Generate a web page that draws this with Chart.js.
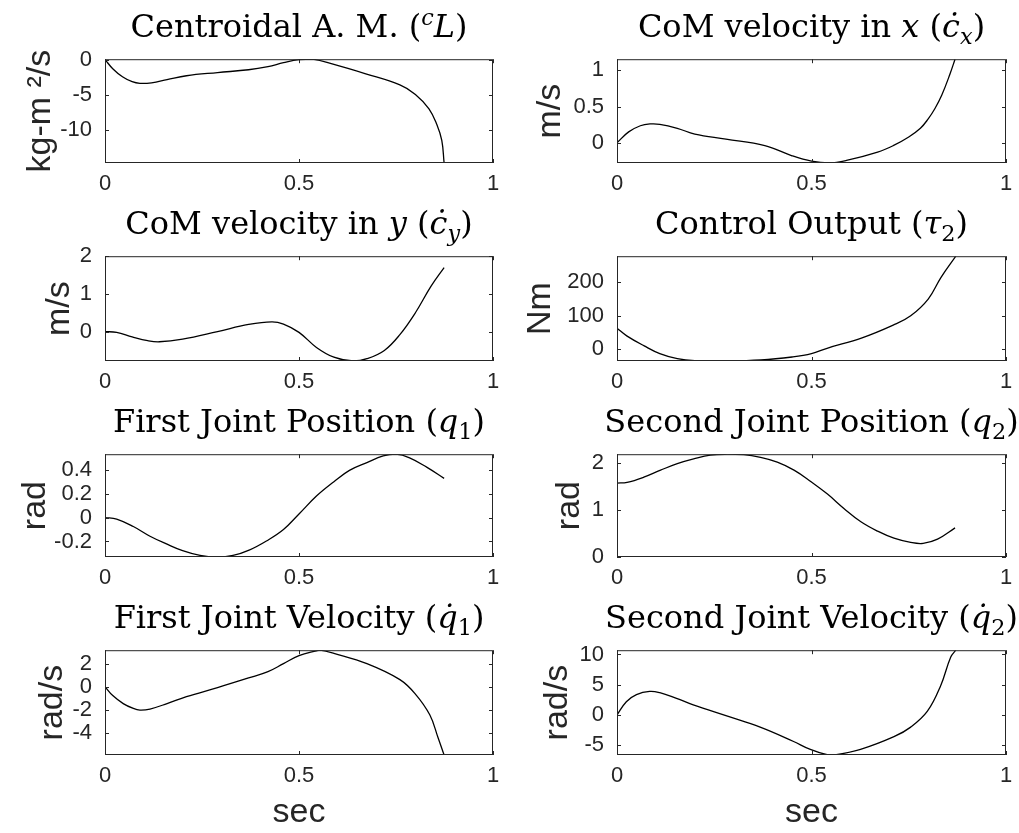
<!DOCTYPE html>
<html>
<head>
<meta charset="utf-8">
<script src="https://cdn.jsdelivr.net/npm/chart.js@4.4.1/dist/chart.umd.min.js"></script>
<style>
    body { margin: 0; background: #fff; width: 1019px; height: 833px; overflow: hidden; position: relative; }
    canvas { position: absolute; }
    .ttl {
        position: absolute; width: 600px; text-align: center; white-space: nowrap;
        font-family: 'DejaVu Serif', serif; font-size: 32px; line-height: 32px; color: #000;
    }
    .ttl sub, .ttl sup { font-size: 0.7em; line-height: 0; }
</style>
</head>
<body>
<script>
// time axis ticks (sec)
const xTicks = [0, 0.5, 1];

// Centroidal angular momentum
const amT = [0, 0.02, 0.045, 0.07, 0.09, 0.12, 0.16, 0.21, 0.29, 0.37, 0.42, 0.46, 0.5, 0.535, 0.59, 0.67, 0.76, 0.8, 0.835, 0.855, 0.868, 0.874];
const amV = [0, -1.3, -2.45, -3.15, -3.38, -3.3, -2.85, -2.3, -1.85, -1.45, -1.0, -0.45, -0.02, 0.05, -0.7, -2.0, -3.6, -4.95, -7.0, -9.2, -11.5, -14.7];
const amTicks = [-10, -5, 0];
const amLim = [-14.7, 0.05];

// CoM velocity x
const vxT = [0, 0.03, 0.06, 0.085, 0.11, 0.155, 0.2, 0.28, 0.38, 0.45, 0.5, 0.545, 0.59, 0.67, 0.71, 0.75, 0.78, 0.8, 0.817, 0.835, 0.856, 0.869];
const vxV = [0, 0.15, 0.235, 0.26, 0.255, 0.2, 0.12, 0.05, -0.04, -0.18, -0.255, -0.28, -0.245, -0.13, -0.04, 0.08, 0.2, 0.33, 0.47, 0.66, 0.95, 1.155];
const vxTicks = [0, 0.5, 1];
const vxLim = [-0.28, 1.155];

// CoM velocity y
const vyT = [0, 0.03, 0.07, 0.11, 0.14, 0.2, 0.29, 0.37, 0.43, 0.46, 0.5, 0.545, 0.59, 0.64, 0.675, 0.72, 0.76, 0.8, 0.84, 0.874];
const vyV = [0, -0.02, -0.14, -0.24, -0.27, -0.2, 0, 0.19, 0.26, 0.2, -0.02, -0.42, -0.68, -0.78, -0.72, -0.5, -0.08, 0.5, 1.2, 1.7];
const vyTicks = [0, 1, 2];
const vyLim = [-0.78, 2];

// Control output tau2
const tauT = [0, 0.025, 0.07, 0.11, 0.155, 0.2, 0.28, 0.37, 0.45, 0.5, 0.54, 0.63, 0.71, 0.755, 0.8, 0.833, 0.871];
const tauV = [63, 40, 10, -13, -28, -34, -35, -32, -23, -13, 3, 34, 72, 100, 150, 215, 278];
const tauTicks = [0, 100, 200];
const tauLim = [-35, 278];

// First joint position q1
const q1T = [0, 0.03, 0.073, 0.116, 0.16, 0.2, 0.245, 0.288, 0.33, 0.373, 0.416, 0.46, 0.5, 0.545, 0.59, 0.63, 0.675, 0.717, 0.75, 0.785, 0.83, 0.874];
const q1V = [0, -0.013, -0.075, -0.156, -0.223, -0.277, -0.317, -0.33, -0.317, -0.27, -0.196, -0.1, 0.03, 0.18, 0.3, 0.395, 0.46, 0.515, 0.53, 0.5, 0.42, 0.328];
const q1Ticks = [-0.2, 0, 0.2, 0.4];
const q1Lim = [-0.33, 0.53];

// Second joint position q2
const q2T = [0, 0.026, 0.069, 0.112, 0.155, 0.197, 0.24, 0.283, 0.326, 0.369, 0.412, 0.455, 0.498, 0.541, 0.584, 0.627, 0.67, 0.712, 0.755, 0.787, 0.824, 0.869];
const q2V = [1.575, 1.59, 1.7, 1.85, 1.99, 2.09, 2.17, 2.19, 2.18, 2.12, 2.02, 1.85, 1.61, 1.34, 1.03, 0.75, 0.55, 0.4, 0.31, 0.29, 0.38, 0.62];
const q2Ticks = [0, 1, 2];
const q2Lim = [0, 2.19];

// First joint velocity
const dq1T = [0, 0.02, 0.047, 0.073, 0.09, 0.116, 0.16, 0.21, 0.29, 0.37, 0.42, 0.46, 0.5, 0.545, 0.555, 0.59, 0.675, 0.76, 0.8, 0.837, 0.858, 0.874];
const dq1V = [0, -0.77, -1.46, -1.88, -2.02, -1.93, -1.46, -0.86, -0.08, 0.75, 1.3, 1.99, 2.68, 3.09, 3.15, 2.87, 1.99, 0.61, -0.64, -2.43, -4.36, -5.9];
const dq1Ticks = [-4, -2, 0, 2];
const dq1Lim = [-5.9, 3.15];

// Second joint velocity
const dq2T = [0, 0.024, 0.05, 0.084, 0.11, 0.153, 0.196, 0.282, 0.368, 0.454, 0.497, 0.54, 0.56, 0.626, 0.712, 0.755, 0.798, 0.832, 0.858, 0.871];
const dq2V = [0, 2.2, 3.37, 3.9, 3.68, 2.74, 1.68, -0.16, -2.0, -4.37, -5.68, -6.55, -6.6, -5.68, -3.58, -2.0, 0.63, 4.84, 9.58, 10.7];
const dq2Ticks = [-5, 0, 5, 10];
const dq2Lim = [-6.6, 10.7];

const panels = [
    { title: 'Centroidal A. M. (<i><sup>c</sup>L</i>)', unit: 'kg-m ²/s', t: amT, v: amV, ticks: amTicks, lim: amLim },
    { title: 'CoM velocity in <i>x</i> (<i>ċ<sub>x</sub></i>)', unit: 'm/s', t: vxT, v: vxV, ticks: vxTicks, lim: vxLim },
    { title: 'CoM velocity in <i>y</i> (<i>ċ<sub>y</sub></i>)', unit: 'm/s', t: vyT, v: vyV, ticks: vyTicks, lim: vyLim },
    { title: 'Control Output (<i>τ</i><sub>2</sub>)', unit: 'Nm', t: tauT, v: tauV, ticks: tauTicks, lim: tauLim },
    { title: 'First Joint Position (<i>q</i><sub>1</sub>)', unit: 'rad', t: q1T, v: q1V, ticks: q1Ticks, lim: q1Lim },
    { title: 'Second Joint Position (<i>q</i><sub>2</sub>)', unit: 'rad', t: q2T, v: q2V, ticks: q2Ticks, lim: q2Lim },
    { title: 'First Joint Velocity (<i>q&#775;</i><sub>1</sub>)', unit: 'rad/s', t: dq1T, v: dq1V, ticks: dq1Ticks, lim: dq1Lim },
    { title: 'Second Joint Velocity (<i>q&#775;</i><sub>2</sub>)', unit: 'rad/s', t: dq2T, v: dq2V, ticks: dq2Ticks, lim: dq2Lim }
];

// layout of the subplot grid (pixels)
const cols = [
    { x: 0, w: 510, left: 105, right: 493 },
    { x: 510, w: 509, left: 617, right: 1006 }
];
const rows = [
    { top: 55, bottom: 163 },
    { top: 252, bottom: 361 },
    { top: 450, bottom: 557 },
    { top: 646, bottom: 755 }
];
const labelX = [41, 551, 60, 541, 36, 570, 53, 558];
const PAD_TOP = 14;
const axisColor = '#262626';
const sans = "'Liberation Sans', Arial, sans-serif";

// MATLAB-style box with inward ticks on all four sides
const boxTicks = {
    id: 'boxTicks',
    afterDatasetsDraw(chart) {
        const { ctx, chartArea: a, scales: { x, y } } = chart;
        const len = 4;
        ctx.save();
        ctx.strokeStyle = axisColor;
        ctx.lineWidth = 1;
        ctx.strokeRect(a.left + 0.5, a.top + 0.5, a.width - 1, a.height - 1);
        ctx.beginPath();
        x.ticks.forEach(tk => {
            const px = Math.round(x.getPixelForValue(tk.value)) + 0.5;
            ctx.moveTo(px, a.bottom); ctx.lineTo(px, a.bottom - len);
            ctx.moveTo(px, a.top); ctx.lineTo(px, a.top + len);
        });
        y.ticks.forEach(tk => {
            const py = Math.round(y.getPixelForValue(tk.value)) + 0.5;
            ctx.moveTo(a.left, py); ctx.lineTo(a.left + len, py);
            ctx.moveTo(a.right, py); ctx.lineTo(a.right - len, py);
        });
        ctx.stroke();
        ctx.restore();
    }
};

panels.forEach((p, i) => {
    const col = cols[i % 2];
    const row = rows[Math.floor(i / 2)];
    const last = Math.floor(i / 2) === rows.length - 1;
    const plotH = row.bottom - row.top;
    const below = last ? 833 - row.bottom : 40;
    const h = plotH + PAD_TOP + below;

    const canvas = document.createElement('canvas');
    canvas.width = col.w;
    canvas.height = h;
    canvas.style.left = col.x + 'px';
    canvas.style.top = (row.top - PAD_TOP) + 'px';
    canvas.style.width = col.w + 'px';
    canvas.style.height = h + 'px';
    document.body.appendChild(canvas);

    const ttl = document.createElement('div');
    ttl.className = 'ttl';
    ttl.innerHTML = p.title;
    ttl.style.left = ((col.left + col.right) / 2 - 300) + 'px';
    ttl.style.top = (row.top - 45) + 'px';
    document.body.appendChild(ttl);

    new Chart(canvas.getContext('2d'), {
        type: 'line',
        data: {
            datasets: [{
                data: p.t.map((tt, k) => ({ x: tt, y: p.v[k] })),
                borderColor: '#000',
                borderWidth: 1.3,
                pointRadius: 0,
                fill: false,
                tension: 0.4,
                clip: 0
            }]
        },
        options: {
            responsive: false,
            animation: false,
            devicePixelRatio: 1,
            layout: { padding: { left: 0, top: PAD_TOP, right: col.x + col.w - col.right, bottom: 0 } },
            plugins: { legend: { display: false }, tooltip: { enabled: false } },
            scales: {
                x: {
                    type: 'linear',
                    min: 0,
                    max: 1,
                    afterBuildTicks: s => { s.ticks = xTicks.map(v => ({ value: v })); },
                    afterFit: s => { s.height = below; },
                    grid: { display: false },
                    border: { display: false },
                    ticks: {
                        autoSkip: false, maxRotation: 0, padding: 0,
                        color: axisColor, font: { family: sans, size: 22 },
                        callback: v => String(v)
                    },
                    title: {
                        display: last, text: 'sec', color: axisColor,
                        font: { family: sans, size: 34 },
                        padding: { top: 0, bottom: 0 }
                    }
                },
                y: {
                    type: 'linear',
                    min: p.lim[0],
                    max: p.lim[1],
                    afterBuildTicks: s => { s.ticks = p.ticks.map(v => ({ value: v })); },
                    afterFit: s => { s.width = col.left - col.x; },
                    grid: { display: false },
                    border: { display: false },
                    ticks: {
                        autoSkip: false, padding: 5,
                        color: axisColor, font: { family: sans, size: 22 },
                        callback: v => String(v)
                    },
                    title: {
                        display: true, text: p.unit, color: axisColor,
                        font: { family: sans, size: 34 },
                        padding: { top: labelX[i] - col.x - 20.4, bottom: 0 }
                    }
                }
            }
        },
        plugins: [boxTicks]
    });
});
</script>
</body>
</html>
